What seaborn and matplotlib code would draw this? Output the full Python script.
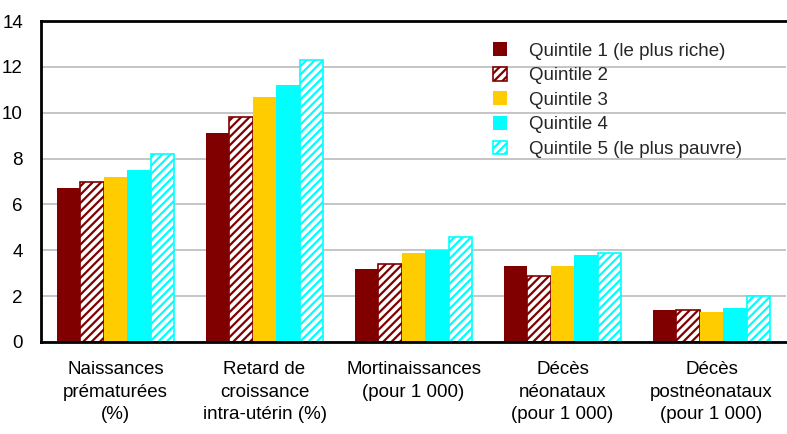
import numpy as np
import pandas as pd
import matplotlib
matplotlib.use('Agg')
import matplotlib.pyplot as plt
import seaborn as sns

categories = ['Naissances\nprématurées\n(%)',
              'Retard de\ncroissance\nintra-utérin (%)',
              'Mortinaissances\n(pour 1 000)',
              'Décès\nnéonataux\n(pour 1 000)',
              'Décès\npostnéonataux\n(pour 1 000)']
quintiles = ['Quintile 1 (le plus riche)', 'Quintile 2', 'Quintile 3',
             'Quintile 4', 'Quintile 5 (le plus pauvre)']
q1 = [6.7, 9.1, 3.2, 3.3, 1.4]
q2 = [7.0, 9.8, 3.4, 2.9, 1.4]
q3 = [7.2, 10.7, 3.9, 3.3, 1.3]
q4 = [7.5, 11.2, 4.0, 3.8, 1.5]
q5 = [8.2, 12.3, 4.6, 3.9, 2.0]
yticks = [0, 2, 4, 6, 8, 10, 12, 14]

colors = ['#800000', '#800000', '#FFCC00', '#00FFFF', '#00FFFF']
hatched = [False, True, False, False, True]

rows = []
for q, vals in zip(quintiles, [q1, q2, q3, q4, q5]):
    for c, v in zip(categories, vals):
        rows.append({'cat': c, 'quintile': q, 'val': v})
df = pd.DataFrame(rows)

sns.set_style('white')
plt.rcParams['font.family'] = ['Liberation Sans', 'DejaVu Sans']
plt.rcParams['hatch.linewidth'] = 1.6

fig = plt.figure(figsize=(7.87, 4.34), dpi=100)
ax = fig.add_axes([41 / 787, (434 - 342) / 434, 745 / 787, 321 / 434])

sns.barplot(data=df, x='cat', y='val', hue='quintile', hue_order=quintiles,
            palette=colors, width=0.79, gap=0, saturation=1, ax=ax,
            legend=False, errorbar=None)

for cont, col, h in zip(ax.containers, colors, hatched):
    for p in cont.patches:
        if h:
            p.set_facecolor('white')
            p.set_edgecolor(col)
            p.set_hatch('////')
            p.set_linewidth(1.2)
        else:
            p.set_edgecolor('none')
            p.set_linewidth(0)

ax.set_ylim(0, 14)
ax.set_yticks(yticks)
ax.yaxis.grid(True, color='#c0c0c0', linewidth=1.3)
ax.set_axisbelow(True)
for s in ['left', 'bottom', 'top']:
    ax.spines[s].set_color('black')
    ax.spines[s].set_linewidth(2)
ax.spines['right'].set_visible(False)
ax.tick_params(axis='both', length=0, labelsize=13.5, colors='black')
ax.tick_params(axis='y', pad=13)
ax.tick_params(axis='x', pad=14)
for t in ax.get_xticklabels():
    t.set_linespacing(1.42)
ax.set_xlabel('')
ax.set_ylabel('')

handles = [cont.patches[0] for cont in ax.containers]
leg = ax.legend(handles, quintiles, loc='upper left',
                bbox_to_anchor=(484 / 787, 1 - 33 / 434), bbox_transform=fig.transFigure,
                frameon=False, fontsize=13.5, handlelength=0.75, handleheight=0.75,
                handletextpad=1.15, labelspacing=0.38, borderpad=0)

fig.savefig('out.png', dpi=100)
